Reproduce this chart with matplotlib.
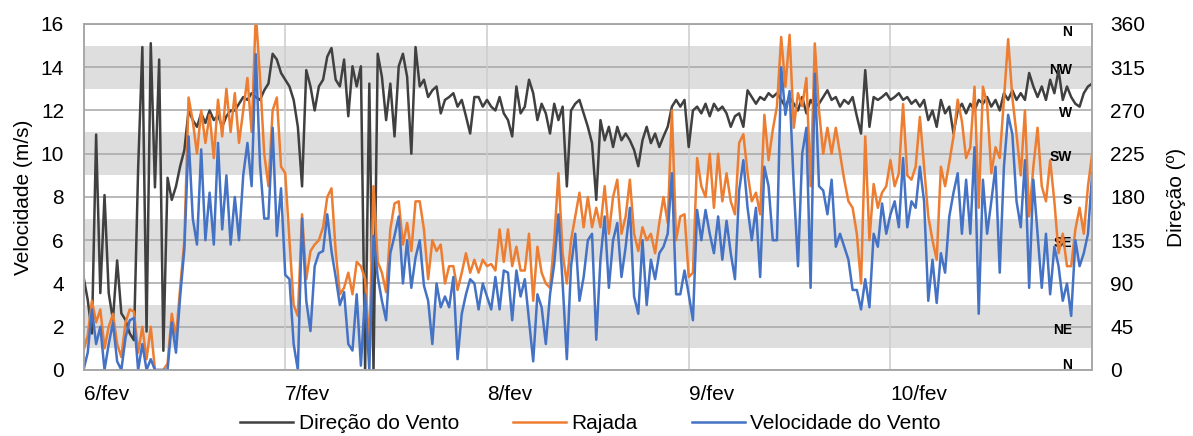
import matplotlib.pyplot as plt
import numpy as np

plt.rcParams['font.family'] = ['Liberation Sans', 'DejaVu Sans']

# dados lidos a cada 30 min, a partir de 6/fev 00:00
direcao_d1 = [97, 73, 38, 245, 80, 182, 80, 52, 114, 59, 52, 38,
              31, 210, 336, 40, 340, 190, 323, 20, 200, 177, 191, 212,
              229, 270, 260, 253, 267, 257, 270, 260, 265, 253, 264, 270,
              270, 277, 284, 281, 288, 284, 281, 291, 298, 329, 323, 309]
direcao_d2 = [302, 295, 281, 253, 191, 312, 295, 270, 295, 302, 326, 335,
              302, 295, 323, 264, 316, 295, 316, 0, 298, 0, 329, 305,
              260, 298, 243, 316, 329, 305, 225, 336, 295, 302, 284, 291,
              295, 267, 281, 284, 288, 274, 281, 264, 246, 284, 284, 274]
direcao_d3 = [281, 274, 270, 284, 267, 260, 243, 295, 267, 274, 302, 288,
              260, 277, 267, 246, 277, 260, 274, 191, 270, 277, 281, 267,
              253, 236, 177, 260, 239, 253, 232, 253, 239, 246, 239, 229,
              212, 239, 253, 236, 246, 232, 243, 253, 274, 281, 274, 281]
direcao_d4 = [232, 270, 274, 267, 277, 264, 277, 270, 274, 267, 253, 264,
              267, 253, 291, 284, 277, 284, 281, 288, 284, 288, 281, 274,
              284, 277, 270, 284, 267, 281, 274, 277, 284, 291, 281, 284,
              274, 281, 277, 284, 264, 246, 312, 253, 284, 281, 284, 288]
direcao_d5 = [281, 284, 288, 281, 284, 277, 281, 274, 281, 260, 270, 253,
              281, 267, 274, 246, 270, 277, 267, 277, 270, 281, 277, 284,
              274, 281, 270, 288, 281, 291, 281, 288, 281, 309, 295, 284,
              295, 281, 302, 288, 312, 281, 295, 284, 277, 274, 288, 295, 298]

rajada_d1 = [0.9, 1.6, 3.2, 2.2, 2.8, 1.0, 2.0, 2.6, 1.2, 0.6, 2.2, 2.8,
             2.7, 0.8, 2.0, 0.5, 2.0, 0.0, 0.0, 0.0, 0.3, 2.6, 1.5, 3.8,
             6.0, 12.6, 11.5, 10.0, 12.0, 10.5, 11.8, 9.8, 12.5, 10.8, 13.0, 11.0,
             12.8, 10.5, 12.0, 13.5, 11.0, 16.5, 13.5, 10.0, 8.5, 12.0, 12.6, 9.4]
rajada_d2 = [9.1, 6.0, 3.0, 2.5, 7.2, 4.2, 5.5, 5.8, 6.0, 6.6, 8.0, 8.4,
             5.5, 3.5, 3.8, 4.5, 3.5, 5.0, 4.8, 4.2, 1.0, 8.5, 5.0, 4.5,
             3.6, 6.5, 7.7, 7.8, 5.8, 6.8, 5.5, 7.8, 7.8, 6.5, 4.2, 6.0,
             5.5, 5.8, 4.0, 4.8, 4.8, 3.7, 4.5, 5.4, 4.5, 5.1, 4.5, 5.1]
rajada_d3 = [4.8, 4.9, 4.6, 6.5, 5.0, 6.5, 4.8, 5.7, 4.6, 4.6, 6.3, 3.2,
             5.7, 4.5, 4.0, 3.8, 6.0, 9.1, 5.4, 4.0, 6.0, 7.1, 8.2, 6.6,
             8.0, 6.6, 7.5, 6.6, 8.5, 6.3, 8.0, 8.8, 6.3, 7.1, 8.8, 6.3,
             5.5, 6.6, 6.0, 6.3, 5.4, 6.8, 8.0, 6.8, 12.0, 6.0, 7.1, 7.2]
rajada_d4 = [4.3, 4.5, 9.8, 8.5, 8.0, 10.0, 7.5, 10.0, 7.8, 9.1, 7.8, 7.2,
             10.5, 10.9, 9.1, 7.8, 8.2, 7.2, 11.8, 9.7, 11.1, 12.2, 15.4, 13.1,
             15.5, 11.2, 12.8, 12.2, 13.5, 8.5, 15.1, 12.0, 10.0, 11.2, 10.0, 11.2,
             10.0, 8.8, 7.8, 7.5, 6.3, 4.0, 10.8, 6.0, 8.6, 7.5, 8.2, 8.5]
rajada_d5 = [9.7, 8.5, 9.1, 12.3, 9.0, 8.8, 9.4, 11.7, 9.4, 7.1, 6.0, 5.1,
             9.4, 8.5, 9.6, 10.8, 12.5, 11.5, 9.8, 10.3, 13.1, 7.5, 13.1, 12.3,
             9.1, 10.3, 9.8, 12.5, 15.3, 12.6, 10.9, 9.0, 12.0, 7.1, 9.4, 11.2,
             8.5, 7.8, 9.7, 7.8, 5.4, 6.3, 4.8, 4.8, 6.5, 7.5, 6.3, 8.5, 10.0]

velocidade_d1 = [0.0, 0.8, 2.8, 1.2, 2.0, 0.0, 1.2, 2.2, 0.4, 0.0, 1.5, 2.3,
                 2.4, 0.0, 1.2, 0.0, 0.5, 0.0, 0.0, 0.0, 0.0, 2.2, 0.8, 3.4,
                 5.6, 10.8, 7.0, 5.8, 10.2, 6.0, 8.2, 5.8, 10.5, 6.5, 9.0, 5.8,
                 8.0, 6.0, 9.0, 10.5, 8.5, 14.6, 9.5, 7.0, 7.0, 11.2, 6.2, 8.4]
velocidade_d2 = [4.4, 4.2, 1.2, 0.0, 7.0, 3.2, 1.8, 4.8, 5.4, 5.5, 7.2, 5.5,
                 4.3, 3.0, 3.6, 1.2, 0.9, 3.5, 0.2, 3.5, 0.0, 6.2, 4.3, 3.2,
                 2.3, 5.4, 6.2, 7.1, 4.0, 6.0, 3.8, 5.2, 6.0, 3.9, 3.2, 1.2,
                 4.0, 2.9, 3.4, 2.9, 4.3, 0.5, 2.6, 3.5, 4.2, 4.0, 2.8, 4.0]
velocidade_d3 = [3.4, 2.8, 4.3, 2.8, 4.6, 4.5, 2.3, 4.6, 3.4, 4.2, 2.3, 0.4,
                 3.5, 2.9, 1.2, 3.5, 4.9, 7.2, 4.0, 0.5, 4.8, 6.3, 3.2, 4.3,
                 6.0, 6.3, 1.4, 5.1, 7.1, 3.8, 6.0, 6.8, 4.3, 5.7, 7.5, 3.4,
                 2.6, 6.0, 3.0, 5.1, 4.2, 5.4, 5.7, 6.3, 9.1, 3.5, 3.5, 4.6]
velocidade_d4 = [3.5, 2.3, 7.4, 6.0, 7.4, 6.3, 5.4, 7.1, 5.1, 6.9, 5.4, 4.2,
                 8.3, 9.7, 7.5, 6.0, 7.5, 4.3, 9.4, 8.5, 6.0, 6.0, 14.0, 11.8,
                 12.9, 8.5, 4.8, 10.0, 11.2, 3.8, 13.7, 8.5, 8.3, 7.2, 8.8, 5.7,
                 6.3, 5.7, 5.1, 3.7, 3.7, 2.8, 4.2, 2.9, 6.3, 5.7, 7.7, 6.3]
velocidade_d5 = [7.2, 7.8, 6.6, 9.8, 6.6, 7.8, 7.5, 9.4, 7.8, 3.2, 5.1, 3.1,
                 5.4, 4.5, 7.1, 8.2, 9.1, 6.3, 8.8, 6.3, 10.3, 2.6, 8.8, 6.3,
                 7.8, 9.4, 4.5, 9.4, 11.8, 10.9, 7.8, 6.6, 9.7, 3.8, 8.8, 6.3,
                 3.8, 6.3, 3.5, 5.7, 4.8, 3.2, 4.0, 2.5, 6.0, 4.8, 5.4, 6.3, 9.1]

dias = ['6/fev', '7/fev', '8/fev', '9/fev', '10/fev']
rosa = ['N', 'NE', 'SE', 'S', 'SW', 'W', 'NW', 'N']
rosa_graus = [0, 45, 135, 180, 225, 270, 315, 360]

direcao = np.concatenate([direcao_d1, direcao_d2, direcao_d3, direcao_d4, direcao_d5])
rajada = np.concatenate([rajada_d1, rajada_d2, rajada_d3, rajada_d4, rajada_d5])
velocidade = np.concatenate([velocidade_d1, velocidade_d2, velocidade_d3,
                             velocidade_d4, velocidade_d5])
horas = np.arange(len(rajada)) * 0.5

fig = plt.figure(figsize=(11.93, 4.36), dpi=100)
ax = fig.add_axes([0.070, 0.1514, 0.8455, 0.7936])
ax2 = ax.twinx()

# eixo da direção fica por baixo (faixas, grade, rosa dos ventos)
ax.set_zorder(ax2.get_zorder() + 1)
ax.patch.set_visible(False)
ax2.patch.set_visible(True)
ax2.patch.set_facecolor('white')

for lo in [22.5, 112.5, 202.5, 292.5]:
    ax2.axhspan(lo, lo + 45, color='#dedede', lw=0, zorder=0)
for g in range(0, 361, 45):
    ax2.axhline(g, color='#a6a6a6', lw=1.1, zorder=0.5)
for d in range(24, 120, 24):
    ax2.axvline(d, color='#cccccc', lw=1.1, zorder=0.5)
for lab, g in zip(rosa, rosa_graus):
    ax2.text(0.980, min(max(g - 3, 5), 352), lab, transform=ax2.get_yaxis_transform(),
             ha='right', va='center', fontsize=10, fontweight='bold', zorder=1)

l1, = ax2.plot(horas, direcao, color='#404040', lw=1.8, zorder=2,
               label='Direção do Vento')
l2, = ax.plot(horas, rajada, color='#ED7D31', lw=1.8, label='Rajada')
l3, = ax.plot(horas, velocidade, color='#4472C4', lw=1.8,
              label='Velocidade do Vento')

ax.set_xlim(0, 120)
ax.set_ylim(0, 16)
ax2.set_ylim(0, 360)
ax.set_yticks(range(0, 17, 2))
ax2.set_yticks(range(0, 361, 45))
ax.set_xticks(range(0, 120, 24))
ax.set_xticklabels(dias, ha='left')

ax.tick_params(axis='both', length=0, labelsize=15)
ax.tick_params(axis='y', pad=14)
ax.tick_params(axis='x', pad=11)
ax2.tick_params(axis='y', length=0, labelsize=15, pad=13)

ax.set_ylabel('Velocidade (m/s)', fontsize=15)
ax.yaxis.set_label_coords(-0.050, 0.5)
ax2.set_ylabel('Direção (º)', fontsize=15)
ax2.yaxis.set_label_coords(1.074, 0.5)

for a in (ax, ax2):
    for s in a.spines.values():
        s.set_color('#a6a6a6')
        s.set_linewidth(1.1)

fig.legend(handles=[l1, l2, l3], loc='center', bbox_to_anchor=(0.495, 0.028),
           ncol=3, frameon=False, fontsize=15, handlelength=2.55,
           handletextpad=0.25, columnspacing=2.6)

fig.savefig('out.png', dpi=100, facecolor='white')
